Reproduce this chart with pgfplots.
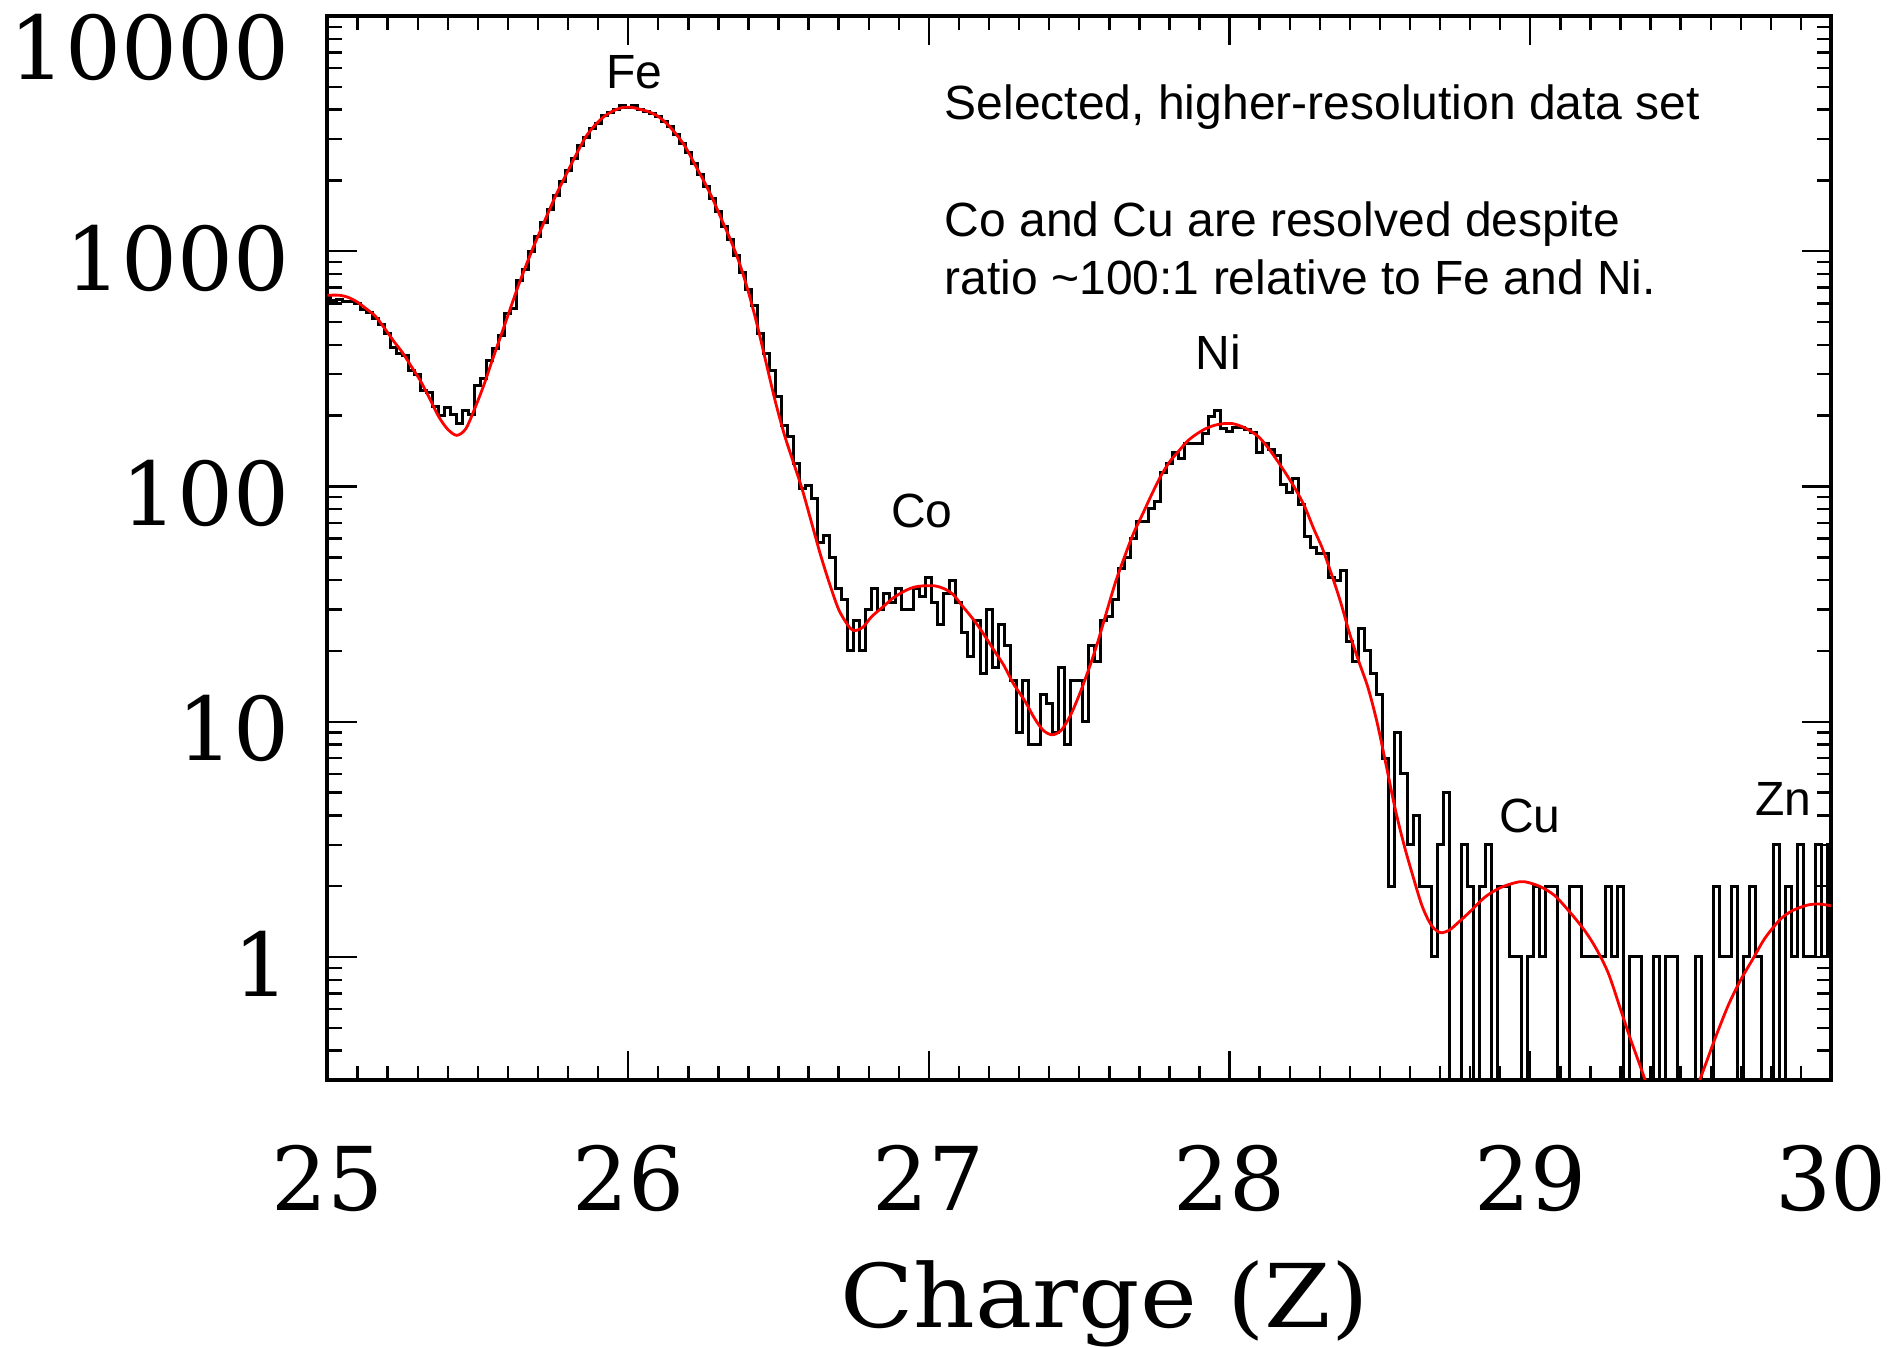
\documentclass[border=0pt]{standalone}
\usepackage{pgfplots}
\pgfplotsset{compat=1.18}
\usepackage{fontspec}
\setmainfont{Liberation Sans}
\newfontfamily\idl{DejaVu Serif}
\newfontfamily\idlwide[FakeStretch=1.09]{DejaVu Serif}
\newfontfamily\arial{Liberation Sans}
\begin{document}
\begin{tikzpicture}
\path[use as bounding box] (-81.875pt,-66.75pt) rectangle (391.875pt,270pt);
\begin{axis}[
  at={(0pt,0pt)}, anchor=south west,
  scale only axis, width=375.875pt, height=266pt,
  xmin=25, xmax=30, ymode=log, ymin=0.3, ymax=10000,
  axis line style={line width=1pt},
  xtick={25,26,27,28,29,30}, xticklabels={25,26,27,28,29,30},
  minor x tick num=9,
  ytick={1,10,100,1000}, yticklabels={1,10,100,1000},
  extra y ticks={10000}, extra y tick labels={10000},
  extra y tick style={yticklabel style={yshift=-6.2pt}},
  minor ytick={0.4,0.5,0.6,0.7,0.8,0.9,2,3,4,5,6,7,8,9,20,30,40,50,60,70,80,90,200,300,400,500,600,700,800,900,2000,3000,4000,5000,6000,7000,8000,9000},
  major tick length=7.3pt, minor tick length=3.6pt,
  every tick/.style={black, line width=0.6pt},
  tick align=inside,
  xticklabel style={font=\idl\fontsize{22}{24}\selectfont, anchor=base, inner sep=0pt, yshift=-32.5pt},
  yticklabel style={font=\idl\fontsize{22}{24}\selectfont, anchor=east, inner sep=0pt, xshift=-9.4pt, yshift=-1.75pt},
  xlabel={Charge (Z)},
  xlabel style={font=\idlwide\fontsize{22}{24}\selectfont, at={(axis description cs:0.517,0)}, anchor=base, inner sep=0pt, yshift=-61.75pt},
]
\addplot[black, line width=0.75pt, const plot mark mid] coordinates {
(25.00,640) (25.02,620) (25.04,625) (25.06,610) (25.08,612) (25.10,600)
(25.12,565) (25.14,547) (25.16,518) (25.18,490) (25.20,447) (25.22,390)
(25.24,368) (25.26,359) (25.28,312) (25.30,300) (25.32,255) (25.34,250)
(25.36,218) (25.38,201) (25.40,217) (25.42,203) (25.44,185) (25.46,210)
(25.48,203) (25.50,269) (25.52,288) (25.54,344) (25.56,386) (25.58,440)
(25.60,543) (25.62,570) (25.64,753) (25.66,840) (25.68,1000) (25.70,1160)
(25.72,1320) (25.74,1510) (25.76,1720) (25.78,1980) (25.80,2200) (25.82,2480)
(25.84,2820) (25.86,3050) (25.88,3330) (25.90,3500) (25.92,3760) (25.94,3880)
(25.96,4000) (25.98,4180) (26.00,4100) (26.02,4170) (26.04,4020) (26.06,3930)
(26.08,3850) (26.10,3740) (26.12,3560) (26.14,3380) (26.16,3120) (26.18,2870)
(26.20,2620) (26.22,2360) (26.24,2120) (26.26,1890) (26.28,1680) (26.30,1470)
(26.32,1280) (26.34,1120) (26.36,960) (26.38,810) (26.40,690) (26.42,590)
(26.44,447) (26.46,368) (26.48,312) (26.50,241) (26.52,181) (26.54,163)
(26.56,125) (26.58,98) (26.60,101) (26.62,89) (26.64,58) (26.66,62)
(26.68,50) (26.70,37) (26.72,33) (26.74,20) (26.76,27) (26.78,20)
(26.80,30) (26.82,37) (26.84,30) (26.86,35) (26.88,32) (26.90,37)
(26.92,30) (26.94,30) (26.96,37) (26.98,34) (27.00,41) (27.02,32)
(27.04,26) (27.06,35) (27.08,40) (27.10,32) (27.12,24) (27.14,19)
(27.16,27) (27.18,16) (27.20,30) (27.22,17) (27.24,26) (27.26,21)
(27.28,15) (27.30,9) (27.32,15) (27.34,8) (27.36,8) (27.38,13)
(27.40,12) (27.42,9) (27.44,17) (27.46,8) (27.48,15) (27.50,15)
(27.52,10) (27.54,21) (27.56,18) (27.58,27) (27.60,28) (27.62,33)
(27.64,45) (27.66,50) (27.68,60) (27.70,71) (27.72,71) (27.74,81)
(27.76,86) (27.78,115) (27.80,125) (27.82,140) (27.84,132) (27.86,152)
(27.88,152) (27.90,152) (27.92,168) (27.94,198) (27.96,210) (27.98,177)
(28.00,171) (28.02,179) (28.04,179) (28.06,175) (28.08,170) (28.10,139)
(28.12,152) (28.14,144) (28.16,136) (28.18,102) (28.20,94) (28.22,108)
(28.24,84) (28.26,61) (28.28,55) (28.30,52) (28.32,52) (28.34,41)
(28.36,40) (28.38,44) (28.40,22) (28.42,18) (28.44,25) (28.46,20)
(28.48,16) (28.50,13) (28.52,7) (28.54,2) (28.56,9) (28.58,6)
(28.60,3) (28.62,4) (28.64,2) (28.66,2) (28.68,1) (28.70,3)
(28.72,5) (28.74,0.01) (28.76,0.01) (28.78,3) (28.80,2) (28.82,0.01)
(28.84,2) (28.86,3) (28.88,0.01) (28.90,2) (28.92,2) (28.94,1)
(28.96,1) (28.98,0.01) (29.00,1) (29.02,2) (29.04,1) (29.06,2)
(29.08,2) (29.10,0.01) (29.12,0.01) (29.14,2) (29.16,2) (29.18,1)
(29.20,1) (29.22,1) (29.24,1) (29.26,2) (29.28,1) (29.30,2)
(29.32,0.01) (29.34,1) (29.36,1) (29.38,0.01) (29.40,0.01) (29.42,1)
(29.44,0.01) (29.46,1) (29.48,1) (29.50,0.01) (29.52,0.01) (29.54,0.01)
(29.56,1) (29.58,0.01) (29.60,0.01) (29.62,2) (29.64,1) (29.66,1)
(29.68,2) (29.70,0.01) (29.72,1) (29.74,2) (29.76,1) (29.78,0.01)
(29.80,0.01) (29.82,3) (29.84,0.01) (29.86,2) (29.88,1) (29.90,3)
(29.92,1) (29.94,1) (29.96,3) (29.98,1) (30.00,3)
};
\addplot[red, line width=0.7pt, smooth, tension=0.5] coordinates {
(25.00,650) (25.04,650) (25.07,636) (25.10,607) (25.13,568) (25.16,528)
(25.19,470) (25.22,415) (25.25,370) (25.28,322) (25.31,280) (25.34,236)
(25.37,198) (25.40,175) (25.43,165) (25.46,176) (25.49,215) (25.52,270)
(25.55,350) (25.58,450) (25.61,580) (25.64,745) (25.68,1007) (25.72,1327)
(25.76,1734) (25.80,2200) (25.83,2620) (25.86,3080) (25.89,3440) (25.92,3740)
(25.95,3950) (25.98,4080) (26.01,4090) (26.04,4010) (26.07,3910) (26.10,3740)
(26.13,3470) (26.16,3140) (26.19,2780) (26.22,2360) (26.25,2005) (26.28,1680)
(26.31,1370) (26.34,1120) (26.37,890) (26.40,670) (26.43,480) (26.46,330)
(26.49,228) (26.52,165) (26.55,126) (26.58,96) (26.61,70) (26.64,51)
(26.67,38.5) (26.70,30) (26.73,25.8) (26.75,24.4) (26.78,25.2) (26.81,28)
(26.85,31) (26.88,33.5) (26.92,36) (26.95,37.3) (26.98,37.8) (27.02,37.8)
(27.05,36.8) (27.08,34.8) (27.11,31.2) (27.15,27) (27.18,23.8) (27.22,19.8)
(27.25,17.3) (27.28,14.6) (27.32,12.2) (27.35,10.4) (27.38,9.2) (27.41,8.8)
(27.44,9.2) (27.47,10.6) (27.50,13) (27.53,16.5) (27.56,21.5) (27.59,29)
(27.62,39) (27.65,50) (27.68,63) (27.71,76) (27.74,92) (27.77,110)
(27.80,127) (27.83,141) (27.86,156) (27.89,167) (27.92,176) (27.95,182)
(27.98,185) (28.01,185) (28.04,180) (28.07,172) (28.10,161) (28.13,145)
(28.16,128) (28.19,112) (28.22,97) (28.25,82) (28.28,66) (28.31,54)
(28.34,42) (28.37,32) (28.40,23.5) (28.43,18) (28.46,14) (28.49,10)
(28.52,6.6) (28.55,4.3) (28.58,3.0) (28.61,2.2) (28.64,1.65) (28.67,1.37)
(28.70,1.27) (28.73,1.3) (28.76,1.4) (28.80,1.56) (28.85,1.8) (28.90,1.97)
(28.95,2.07) (28.98,2.09) (29.03,2.0) (29.08,1.83) (29.13,1.56) (29.18,1.3)
(29.22,1.08) (29.26,0.85) (29.30,0.6) (29.33,0.46) (29.36,0.36) (29.40,0.26)
(29.44,0.2) (29.48,0.18) (29.52,0.2) (29.56,0.29) (29.59,0.37) (29.62,0.47)
(29.66,0.63) (29.70,0.8) (29.74,0.98) (29.78,1.2) (29.83,1.44) (29.87,1.57)
(29.92,1.66) (29.96,1.68) (30.00,1.65)
};
\node[font=\arial\fontsize{12}{14}\selectfont, inner sep=0pt] at (rel axis cs:0.2042,0.9469) {Fe};
\node[font=\arial\fontsize{12}{14}\selectfont, inner sep=0pt] at (rel axis cs:0.3954,0.5348) {Co};
\node[font=\arial\fontsize{12}{14}\selectfont, inner sep=0pt] at (rel axis cs:0.5923,0.6842) {Ni};
\node[font=\arial\fontsize{12}{14}\selectfont, inner sep=0pt] at (rel axis cs:0.7998,0.2481) {Cu};
\node[font=\arial\fontsize{12}{14}\selectfont, inner sep=0pt] at (rel axis cs:0.9681,0.2641) {Zn};
\node[font=\arial\fontsize{12}{14}\selectfont, inner sep=0pt, anchor=base west] at (rel axis cs:0.4101,0.9023) {Selected, higher-resolution data set};
\node[font=\arial\fontsize{12}{14}\selectfont, inner sep=0pt, anchor=base west] at (rel axis cs:0.4101,0.7932) {Co and Cu are resolved despite};
\node[font=\arial\fontsize{12}{14}\selectfont, inner sep=0pt, anchor=base west] at (rel axis cs:0.4101,0.7387) {ratio \textasciitilde100:1 relative to Fe and Ni.};
\end{axis}
\end{tikzpicture}
\end{document}
